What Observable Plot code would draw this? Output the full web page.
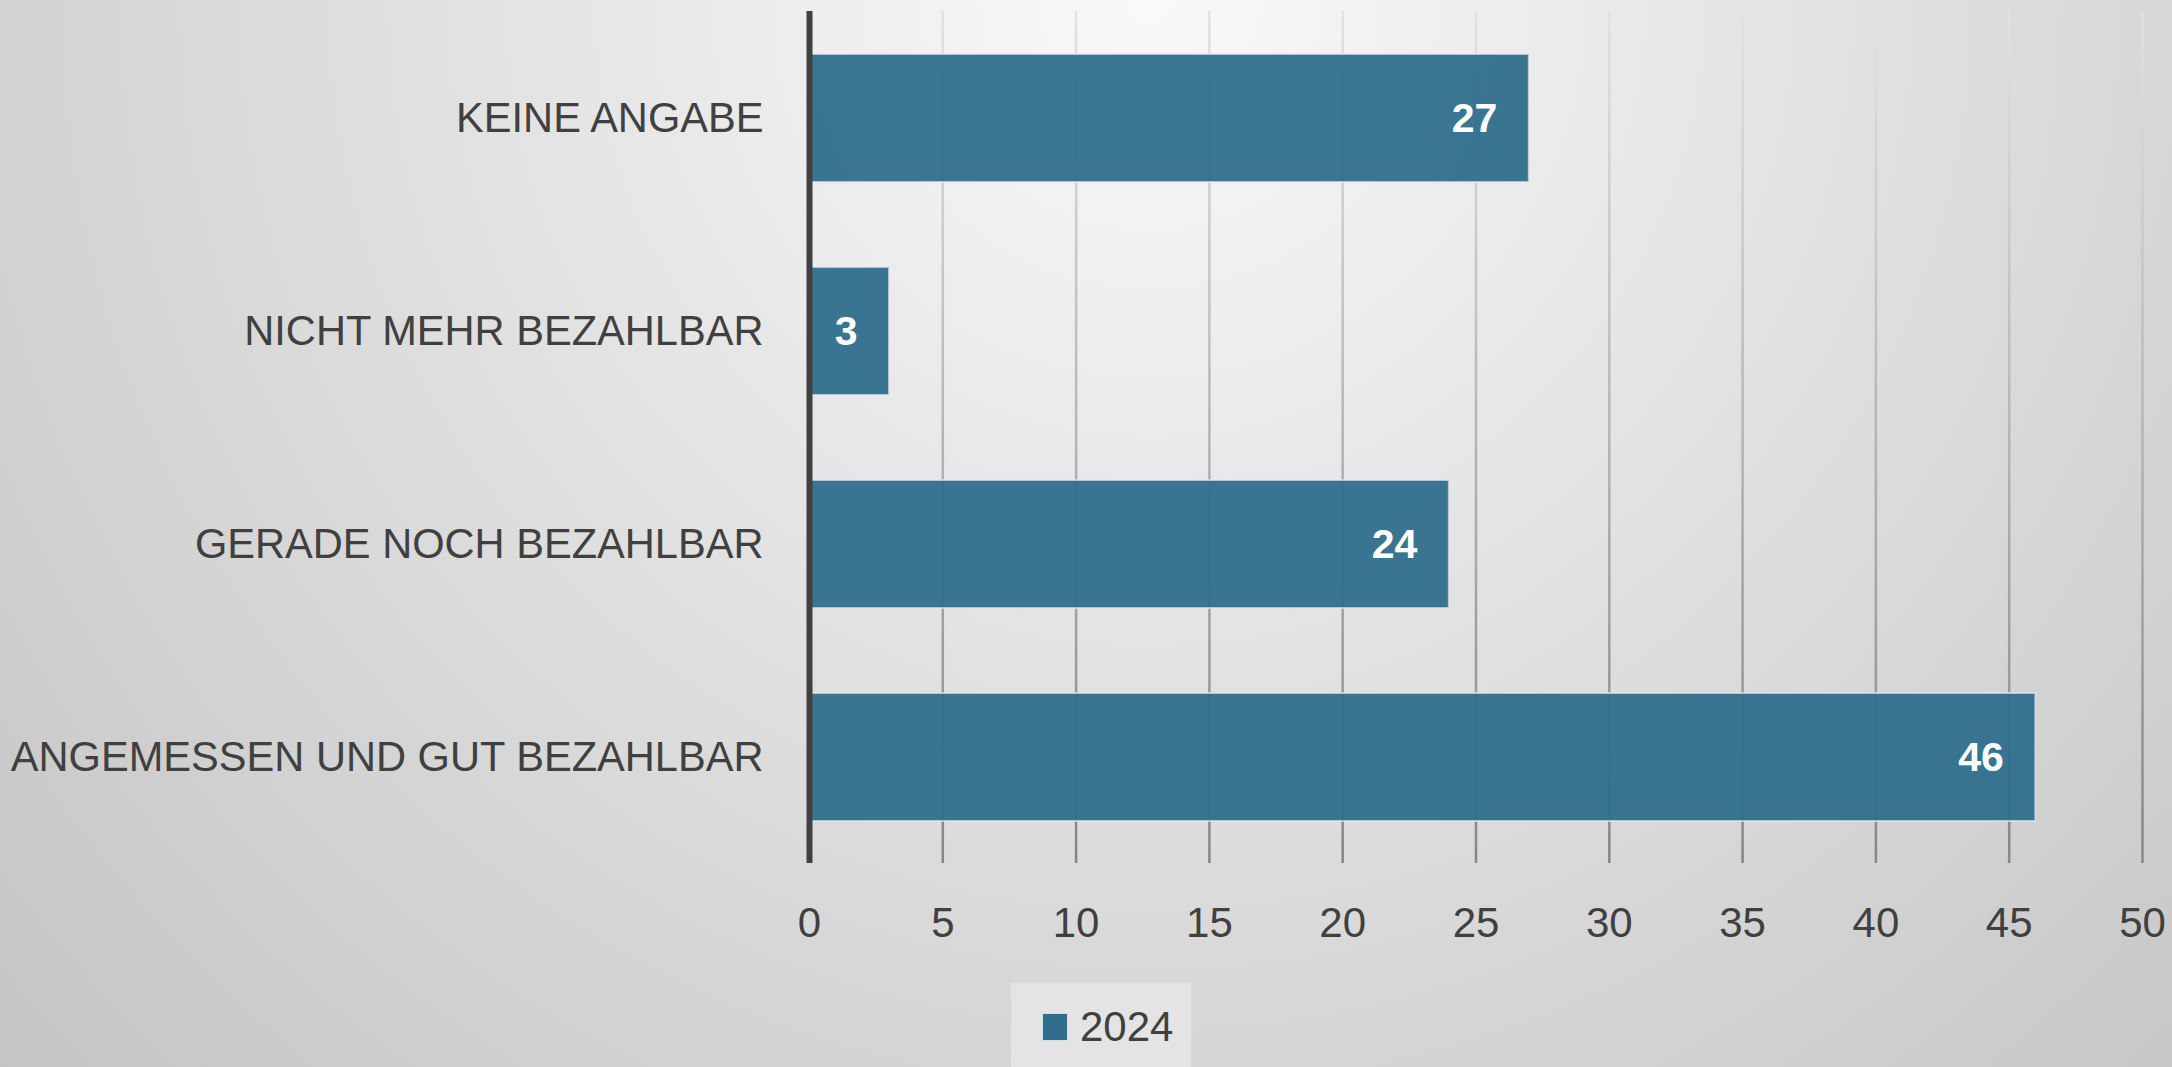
<!DOCTYPE html>
<html>
<head>
<meta charset="utf-8">
<script src="https://cdn.jsdelivr.net/npm/d3@7"></script>
<script src="https://cdn.jsdelivr.net/npm/@observablehq/plot@0.6"></script>
<style>
  html, body { margin: 0; padding: 0; width: 2172px; height: 1067px; overflow: hidden; }
  body {
    background: radial-gradient(circle farthest-corner at 1150px 0px, #f9f9f9 0%, #c4c4c4 100%);
    font-family: "Liberation Sans", Arial, sans-serif;
  }
  #chart svg { display: block; }
  #legend {
    margin-left: 1011px; margin-top: 8px;
    width: 180px; height: 100px; background: #e4e4e4;
    position: relative;
  }
  #legend .sw {
    position: absolute; left: 31px; top: 30px; width: 24px; height: 26px;
    background: #2f6f8c; border: 1px solid #cfe0e8;
  }
  #legend .lt {
    position: absolute; left: 69px; top: 20px; font-size: 42px; line-height: 48px; color: #404040;
  }
</style>
</head>
<body>
<div id="chart"></div>
<div id="legend"><span class="sw"></span><span class="lt"></span></div>
<script>
const categories = ["KEINE ANGABE", "NICHT MEHR BEZAHLBAR", "GERADE NOCH BEZAHLBAR", "ANGEMESSEN UND GUT BEZAHLBAR"];
const values2024 = [27, 3, 24, 46];
const seriesName = "2024";
const xTicks = [0, 5, 10, 15, 20, 25, 30, 35, 40, 45, 50];

const data = categories.map((c, i) => ({category: c, value: values2024[i]}));

const chart = Plot.plot({
  width: 2172,
  height: 975,
  marginTop: 11,
  marginBottom: 112,
  marginLeft: 809,
  marginRight: 30,
  style: {background: "transparent", fontFamily: "Liberation Sans, Arial, sans-serif", overflow: "visible"},
  x: {domain: [0, 50], ticks: xTicks},
  y: {domain: categories, paddingInner: 0.4, paddingOuter: 0.2},
  marks: [
    Plot.gridX(xTicks, {stroke: "url(#gridGrad)", strokeOpacity: 1, strokeWidth: 2.5}),
    Plot.barX(data, {y: "category", x: "value", fill: "#2f6f8c", fillOpacity: 0.95, stroke: "#dfeaef", strokeOpacity: 0.7, strokeWidth: 2}),
    Plot.ruleX([0], {stroke: "#404040", strokeWidth: 6}),
    Plot.text(data, {y: "category", x: "value", text: d => String(d.value), textAnchor: "end", dx: -32, fill: "white", fontSize: 41, fontWeight: "bold"}),
    Plot.axisX({ticks: xTicks, tickSize: 0, tickPadding: 44, fontSize: 42, color: "#404040", label: null}),
    Plot.axisY({tickSize: 0, tickPadding: 46, fontSize: 41.6, color: "#404040", label: null})
  ]
});

const defs = d3.select(chart).insert("defs", ":first-child");
const grad = defs.append("linearGradient")
  .attr("id", "gridGrad")
  .attr("gradientUnits", "userSpaceOnUse")
  .attr("x1", 0).attr("y1", 11).attr("x2", 0).attr("y2", 863);
grad.append("stop").attr("offset", "0%").attr("stop-color", "#e2e2e2");
grad.append("stop").attr("offset", "100%").attr("stop-color", "#868686");

document.getElementById("chart").appendChild(chart);
document.querySelector("#legend .lt").textContent = seriesName;
</script>
</body>
</html>
